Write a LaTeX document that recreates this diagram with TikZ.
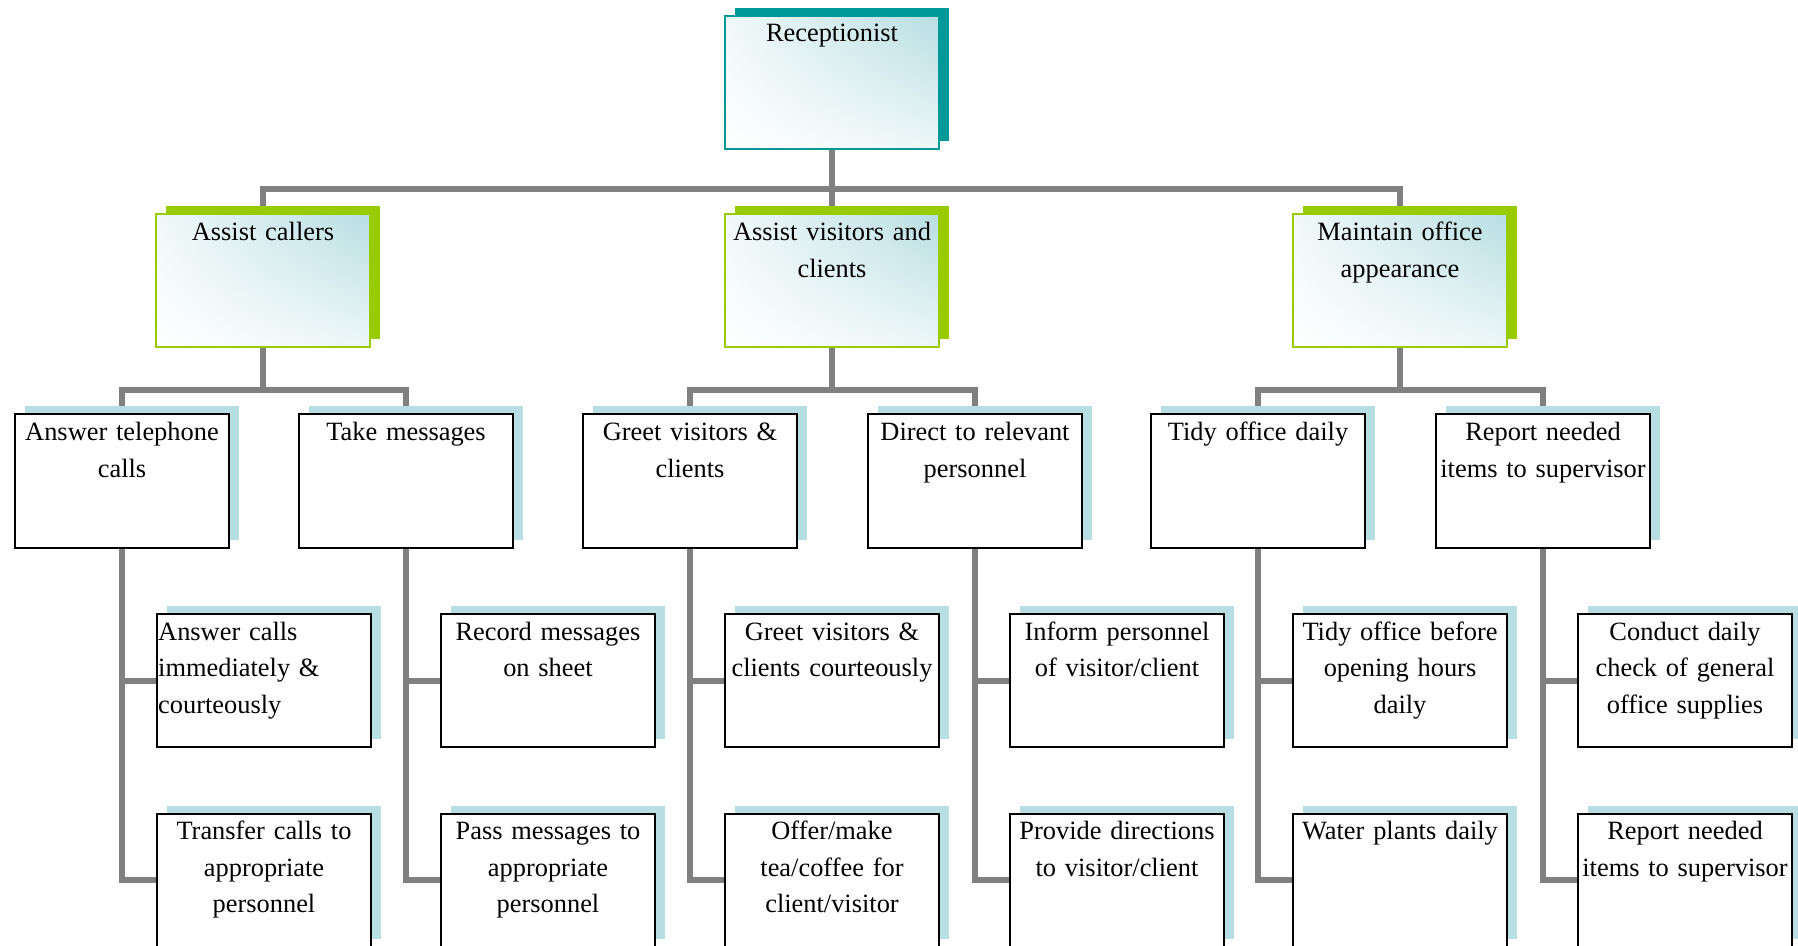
\documentclass[tikz,border=0pt]{standalone}
\usepackage{fontspec}
\setmainfont{Liberation Serif}
\usetikzlibrary{shadows, shadings, backgrounds}

\definecolor{tealbox}{RGB}{0,153,153}
\definecolor{greenbox}{RGB}{153,204,0}
\definecolor{paleblue}{RGB}{183,222,226}
\definecolor{linegray}{RGB}{128,128,128}

\begin{document}
\begin{tikzpicture}[x=0.5pt, y=-0.5pt]
	\tikzstyle{card} = [rectangle, inner xsep=1.5pt, inner ysep=0.4pt, text width=104pt, align=center, text height=12.6pt, text depth=53.1pt, line width=1pt, font=\fontsize{13.2}{18.3}\selectfont]
	\tikzstyle{head} = [card, upper left=paleblue!20, upper right=paleblue, lower left=white, lower right=paleblue!25]
	\tikzstyle{task} = [card, fill=white, draw=black, drop shadow={opacity=1, fill=paleblue, shadow xshift=5pt, shadow yshift=4pt}]
	\tikzstyle{conn} = [draw=linegray, line width=3pt]
	\useasboundingbox (0,0) rectangle (1798,946);

	\node[head, draw=tealbox, drop shadow={opacity=1, fill=tealbox, shadow xshift=5pt, shadow yshift=4pt}] at (832,82.5) (rec) {Receptionist};

	\node[head, draw=greenbox, drop shadow={opacity=1, fill=greenbox, shadow xshift=5pt, shadow yshift=4pt}] at (263,281) (duty1) {Assist callers};
	\node[head, draw=greenbox, drop shadow={opacity=1, fill=greenbox, shadow xshift=5pt, shadow yshift=4pt}] at (832,281) (duty2) {Assist visitors and\\clients};
	\node[head, draw=greenbox, drop shadow={opacity=1, fill=greenbox, shadow xshift=5pt, shadow yshift=4pt}] at (1400,281) (duty3) {Maintain office\\appearance};

	\node[task] at (122,481) (task1) {Answer telephone\\calls};
	\node[task] at (406,481) (task2) {Take messages};
	\node[task] at (690,481) (task3) {Greet visitors \&\\clients};
	\node[task] at (975,481) (task4) {Direct to relevant\\personnel};
	\node[task] at (1258,481) (task5) {Tidy office daily};
	\node[task] at (1543,481) (task6) {Report needed\\items to supervisor};

	\node[task, align=left, inner xsep=0.6pt, text width=105.8pt] at (264,680.5) (sub1a) {Answer calls\\immediately \&\\courteously};
	\node[task] at (264,880) (sub1b) {Transfer calls to\\appropriate\\personnel};
	\node[task] at (548,680.5) (sub2a) {Record messages\\on sheet};
	\node[task] at (548,880) (sub2b) {Pass messages to\\appropriate\\personnel};
	\node[task] at (832,680.5) (sub3a) {Greet visitors \&\\clients courteously};
	\node[task] at (832,880) (sub3b) {Offer/make\\tea/coffee for\\client/visitor};
	\node[task] at (1117,680.5) (sub4a) {Inform personnel\\of visitor/client};
	\node[task] at (1117,880) (sub4b) {Provide directions\\to visitor/client};
	\node[task] at (1400,680.5) (sub5a) {Tidy office before\\opening hours\\daily};
	\node[task] at (1400,880) (sub5b) {Water plants daily};
	\node[task] at (1685,680.5) (sub6a) {Conduct daily\\check of general\\office supplies};
	\node[task] at (1685,880) (sub6b) {Report needed\\items to supervisor};

	\begin{scope}[on background layer]
	% top level
	\draw[conn] (rec.south) -- (duty2.north);
	\draw[conn] (duty1.north) -- ++(0,-24) -| (duty3.north);

	% duties to tasks
	\draw[conn] (duty1.south) -- ++(0,43.5);
	\draw[conn] (duty2.south) -- ++(0,43.5);
	\draw[conn] (duty3.south) -- ++(0,43.5);
	\draw[conn] (task1.north) -- ++(0,-23.5) -| (task2.north);
	\draw[conn] (task3.north) -- ++(0,-23.5) -| (task4.north);
	\draw[conn] (task5.north) -- ++(0,-23.5) -| (task6.north);

	% tasks to sub tasks
	\draw[conn] (task1.south) |- (sub1b.west);
	\draw[conn] (task1.south |- sub1a.west) -- (sub1a.west);
	\draw[conn] (task2.south) |- (sub2b.west);
	\draw[conn] (task2.south |- sub2a.west) -- (sub2a.west);
	\draw[conn] (task3.south) |- (sub3b.west);
	\draw[conn] (task3.south |- sub3a.west) -- (sub3a.west);
	\draw[conn] (task4.south) |- (sub4b.west);
	\draw[conn] (task4.south |- sub4a.west) -- (sub4a.west);
	\draw[conn] (task5.south) |- (sub5b.west);
	\draw[conn] (task5.south |- sub5a.west) -- (sub5a.west);
	\draw[conn] (task6.south) |- (sub6b.west);
	\draw[conn] (task6.south |- sub6a.west) -- (sub6a.west);
	\end{scope}
\end{tikzpicture}
\end{document}
